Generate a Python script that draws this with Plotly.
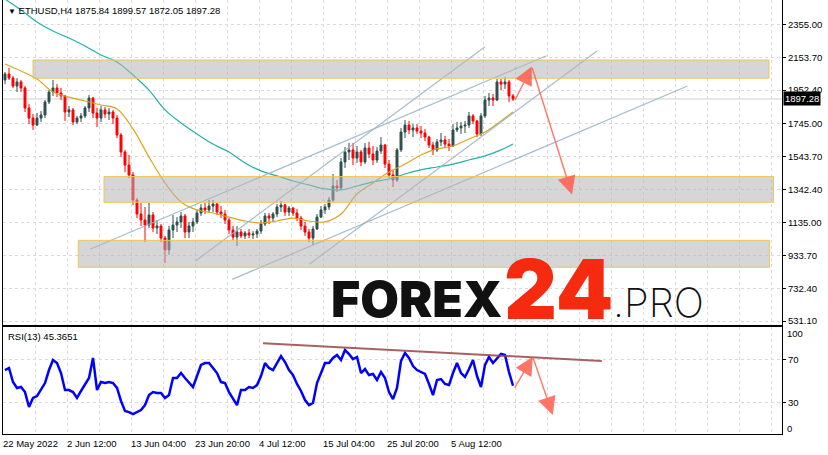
import pandas as pd
import plotly.graph_objects as go

# ---------------- data ----------------
t0 = pd.Timestamp("2022-05-22 20:00")
bar_hours = 16

opens = [2014,2051,2026,1977,2002,1965,1842,1780,1737,1780,
         1799,1879,1940,1965,1934,1916,1817,1830,1756,1780,
         1793,1842,1903,1811,1780,1830,1805,1817,1780,1676,
         1571,1491,1430,1276,1190,1153,1122,1184,1104,1116,
         1042,969,1092,1122,1141,1178,1079,1116,1141,1196,
         1227,1215,1239,1251,1202,1190,1153,1092,1048,1079,
         1055,1073,1061,1067,1085,1128,1178,1165,1190,1233,
         1245,1202,1227,1196,1165,1116,1079,1042,1098,1171,
         1215,1233,1276,1362,1350,1510,1571,1584,1534,1571,
         1510,1596,1559,1522,1577,1614,1497,1430,1399,1584,
         1694,1737,1707,1719,1700,1688,1663,1614,1584,1633,
         1645,1620,1608,1707,1719,1731,1737,1793,1762,1682,
         1793,1891,1903,1891,2002,1989,2002,1916]
highs = [2063,2088,2039,2026,2014,1977,1866,1805,1811,1823,
         1891,1952,2014,1989,1965,1922,1854,1842,1793,1811,
         1854,1922,1909,1842,1854,1848,1842,1830,1799,1688,
         1584,1553,1448,1288,1258,1233,1258,1202,1153,1128,
         1055,1116,1184,1171,1202,1190,1141,1165,1215,1251,
         1258,1276,1276,1258,1239,1215,1165,1116,1116,1098,
         1085,1098,1085,1098,1153,1196,1196,1202,1251,1270,
         1251,1239,1233,1221,1178,1141,1098,1116,1190,1239,
         1251,1294,1436,1399,1534,1602,1627,1627,1608,1584,
         1627,1633,1608,1602,1663,1620,1522,1461,1596,1719,
         1768,1762,1743,1743,1731,1713,1670,1633,1651,1688,
         1670,1651,1743,1756,1756,1762,1817,1805,1768,1811,
         1916,1934,1928,2020,2020,2032,2014,1928]
lows = [1989,2014,1965,1940,1940,1817,1743,1707,1731,1756,
        1780,1866,1916,1909,1891,1762,1786,1737,1743,1756,
        1780,1817,1780,1725,1756,1780,1768,1743,1657,1540,
        1448,1411,1245,1165,1116,1018,1104,1079,1067,1018,
        889,938,1042,1079,1104,1042,1042,1079,1128,1178,
        1190,1196,1202,1184,1165,1128,1067,1030,993,1042,
        1036,1042,1036,1042,1067,1116,1128,1141,1171,1202,
        1178,1178,1178,1147,1092,1055,1018,999,1092,1165,
        1190,1215,1264,1325,1338,1473,1522,1491,1504,1485,
        1497,1534,1491,1504,1559,1473,1411,1356,1387,1571,
        1657,1682,1663,1682,1657,1639,1596,1553,1571,1608,
        1596,1577,1602,1694,1682,1688,1719,1743,1663,1670,
        1780,1854,1854,1885,1952,1959,1879,1885]
closes = [2051,2026,1977,2002,1965,1842,1780,1737,1780,1799,
          1879,1940,1965,1934,1916,1817,1830,1756,1780,1793,
          1842,1903,1811,1780,1830,1805,1817,1780,1676,1571,
          1491,1430,1276,1190,1153,1122,1184,1104,1116,1042,
          969,1092,1122,1141,1178,1079,1116,1141,1196,1227,
          1215,1239,1251,1202,1190,1153,1092,1048,1079,1055,
          1073,1061,1067,1085,1128,1178,1165,1190,1233,1245,
          1202,1227,1196,1165,1116,1079,1042,1098,1171,1215,
          1233,1276,1362,1350,1510,1571,1584,1534,1571,1510,
          1596,1559,1522,1577,1614,1497,1430,1399,1584,1694,
          1737,1707,1719,1700,1688,1663,1614,1584,1633,1645,
          1620,1608,1707,1719,1731,1737,1793,1762,1682,1793,
          1891,1903,1891,2002,1989,2002,1916,1897.28]

ma_idx = list(range(0, 125, 4)) + [127]
ma_fast = [2112,2069,2020,1940,1909,1885,1860,1836,1713,1540,1381,1264,1215,1196,1171,1147,
           1135,1147,1165,1147,1141,1190,1313,1381,1448,1497,1553,1590,1608,1651,1694,1762,1817]
ma_slow = [2512,2444,2371,2315,2272,2223,2168,2125,2045,1952,1830,1750,1682,1620,1571,1504,
           1455,1424,1393,1368,1344,1338,1362,1387,1405,1436,1461,1479,1497,1522,1547,1584,1620]

rsi = [60.0,61.9,48.8,43.3,44.2,39.5,25.6,34.0,35.8,41.4,
       47.9,60.0,69.3,66.5,57.2,41.4,41.4,39.5,34.0,40.5,
       46.0,52.6,71.2,41.4,48.8,47.9,48.8,47.9,43.3,31.2,
       21.9,20.9,19.1,20.9,22.8,27.4,36.7,39.5,38.6,38.6,
       34.0,36.7,52.6,52.6,57.2,52.6,47.9,44.2,54.4,64.7,
       66.5,66.5,61.9,57.2,48.8,47.9,39.5,34.0,27.4,41.4,
       41.4,44.2,43.3,46.0,54.4,66.5,61.9,60.0,66.5,73.0,
       67.4,60.0,55.3,47.0,40.5,32.1,27.4,29.3,47.9,58.1,
       66.5,66.5,71.2,74.0,69.3,78.6,74.9,70.2,72.1,57.2,
       60.9,55.3,56.3,50.7,58.1,52.6,39.5,33.0,43.3,68.4,
       75.8,71.2,63.7,60.0,58.1,56.3,47.0,36.7,50.7,51.6,
       47.0,46.0,57.2,66.5,57.2,53.5,60.9,69.3,54.4,44.2,
       64.7,72.1,66.5,71.2,74.9,74.0,58.1,45.37]

price_ticks = [2355.00, 2153.70, 1952.40, 1745.00, 1543.70, 1342.40, 1135.00, 933.70, 732.40, 531.10]
date_labels = ["22 May 2022", "2 Jun 12:00", "13 Jun 04:00", "23 Jun 20:00",
               "4 Jul 12:00", "15 Jul 04:00", "25 Jul 20:00", "5 Aug 12:00"]
label_step_hours = 256
grid_step_hours = 128

zone_t0 = ["2022-05-27 20:00", "2022-06-08 16:00", "2022-06-04 09:00"]
zone_t1 = ["2022-09-27 12:00", "2022-09-28 06:00", "2022-09-27 14:00"]
zone_lo = [2025, 1262, 862]
zone_hi = [2137, 1420, 1028]

trend_t0 = ["2022-06-06 08:00", "2022-06-23 21:36", "2022-06-30 00:48", "2022-07-12 20:48"]
trend_p0 = [973, 901, 788, 881]
trend_t1 = ["2022-08-21 09:36", "2022-08-11 04:00", "2022-09-13 22:00", "2022-08-29 20:00"]
trend_p1 = [2163, 2219, 1977, 2192]

arrow_t = ["2022-08-16 01:00", "2022-08-18 23:00", "2022-08-25 16:00"]
arrow_p = [1880, 2097, 1310]
rsi_arrow_t = ["2022-08-16 00:00", "2022-08-19 03:00", "2022-08-22 11:00"]
rsi_arrow_v = [42.3, 72.4, 18.1]
rsi_trend_t = ["2022-07-05 04:00", "2022-08-30 15:00"]
rsi_trend_v = [84.8, 68.4]

title_text = "ETHUSD,H4 1875.84 1899.57 1872.05 1897.28"
rsi_text = "RSI(13) 45.3651"

# ---------------- helpers (layout positions) ----------------
W, H = 828, 455
L, R, T, B = 3, 46, 0, 21
def px(x):
    return (x - L) / (W - L - R)
def py(y):
    return (H - B - y) / (H - T - B)

n = len(closes)
bar_times = [t0 + pd.Timedelta(hours=8 + bar_hours * i) for i in range(n)]
ma_times = [bar_times[i] for i in ma_idx]
x_end = t0 + pd.Timedelta(hours=4 * (W - L - R))

GRID = "#dadada"
FONT = "Liberation Sans"
FS = 9.5

fig = go.Figure()

fig.add_trace(go.Candlestick(
    x=bar_times, open=opens, high=highs, low=lows, close=closes,
    increasing=dict(line=dict(color="#2f4f4f", width=1), fillcolor="#2f4f4f"),
    decreasing=dict(line=dict(color="#ff0000", width=1), fillcolor="#ff0000"),
    whiskerwidth=0, xaxis="x", yaxis="y", hoverinfo="skip"))

fig.add_trace(go.Scatter(x=ma_times, y=ma_slow, mode="lines",
                         line=dict(color="#20b2aa", width=1.2, shape="spline"),
                         xaxis="x", yaxis="y", hoverinfo="skip"))
fig.add_trace(go.Scatter(x=ma_times, y=ma_fast, mode="lines",
                         line=dict(color="#daa520", width=1.2, shape="spline"),
                         xaxis="x", yaxis="y", hoverinfo="skip"))

tx, ty = [], []
for a, b, c, d in zip(trend_t0, trend_p0, trend_t1, trend_p1):
    tx += [a, c, None]
    ty += [b, d, None]
fig.add_trace(go.Scatter(x=tx, y=ty, mode="lines",
                         line=dict(color="rgba(150,178,195,0.85)", width=1.2),
                         xaxis="x", yaxis="y", hoverinfo="skip"))

fig.add_trace(go.Scatter(x=bar_times, y=rsi, mode="lines",
                         line=dict(color="#0000ff", width=2.5),
                         xaxis="x2", yaxis="y2", hoverinfo="skip"))
fig.add_trace(go.Scatter(x=rsi_trend_t, y=rsi_trend_v, mode="lines",
                         line=dict(color="rgba(150,70,70,0.85)", width=2),
                         xaxis="x2", yaxis="y2", hoverinfo="skip"))

shapes = []
shapes.append(dict(type="line", xref="paper", x0=0, x1=1, yref="y",
                   y0=closes[-1], y1=closes[-1], line=dict(color="#d0d0d0", width=1),
                   layer="below"))
for a, b, lo, hi in zip(zone_t0, zone_t1, zone_lo, zone_hi):
    shapes.append(dict(type="rect", xref="x", yref="y", x0=a, x1=b, y0=lo, y1=hi,
                       fillcolor="rgba(180,180,180,0.55)",
                       line=dict(color="rgba(240,195,80,0.95)", width=1), layer="above"))

ann = []
ann.append(dict(xref="paper", yref="paper", x=px(6), y=py(10), xanchor="left", yanchor="middle",
                text="<span style='font-size:8px'>▼</span> " + title_text, showarrow=False,
                font=dict(family=FONT, size=FS, color="black")))
ann.append(dict(xref="paper", yref="paper", x=px(6), y=py(336), xanchor="left", yanchor="middle",
                text=rsi_text, showarrow=False, font=dict(family=FONT, size=FS, color="black")))
ann.append(dict(xref="paper", yref="paper", x=px(785), y=py(333), xanchor="left", yanchor="middle",
                text="100", showarrow=False, font=dict(family=FONT, size=FS, color="black")))
ann.append(dict(xref="paper", yref="paper", x=px(785), y=py(428), xanchor="left", yanchor="middle",
                text="0", showarrow=False, font=dict(family=FONT, size=FS, color="black")))
for k, lab in enumerate(date_labels):
    ann.append(dict(xref="x2", yref="paper", x=t0 + pd.Timedelta(hours=label_step_hours * k),
                    y=py(443), xanchor="left", yanchor="middle", text=lab, showarrow=False,
                    xshift=-2, font=dict(family=FONT, size=FS, color="black")))
ann.append(dict(xref="paper", yref="y", x=px(783), y=closes[-1], xanchor="left", yanchor="middle",
                text="%.2f" % closes[-1], showarrow=False, bgcolor="black", borderpad=1,
                font=dict(family=FONT, size=FS, color="white")))

acol = "rgba(255,95,80,0.85)"
for i in range(2):
    ann.append(dict(xref="x", yref="y", axref="x", ayref="y",
                    x=arrow_t[i + 1], y=arrow_p[i + 1], ax=arrow_t[i], ay=arrow_p[i],
                    showarrow=True, arrowhead=2, arrowsize=2.6, arrowwidth=1.4,
                    arrowcolor=acol, text=""))
    ann.append(dict(xref="x2", yref="y2", axref="x2", ayref="y2",
                    x=rsi_arrow_t[i + 1], y=rsi_arrow_v[i + 1], ax=rsi_arrow_t[i], ay=rsi_arrow_v[i],
                    showarrow=True, arrowhead=2, arrowsize=2.6, arrowwidth=1.4,
                    arrowcolor=acol, text=""))

# watermark
ann.append(dict(xref="paper", yref="paper", x=px(329), y=py(299), xanchor="left", yanchor="middle",
                text="FOREX", showarrow=False,
                font=dict(family="Inter", size=50, color="#111111", weight=900)))
ann.append(dict(xref="paper", yref="paper", x=px(502), y=py(289), xanchor="left", yanchor="middle",
                text="24", showarrow=False,
                font=dict(family="Inter", size=82, color="#f52a0f", weight=900)))
ann.append(dict(xref="paper", yref="paper", x=px(611), y=py(303), xanchor="left", yanchor="middle",
                text=".PRO", showarrow=False,
                font=dict(family="Inter", size=40, color="#111111", weight=200)))

axis_common = dict(showgrid=True, gridcolor=GRID, griddash="3px,3px", gridwidth=1, zeroline=False,
                   showline=True, linecolor="black", linewidth=1)

fig.update_layout(
    width=W, height=H, margin=dict(l=L, r=R, t=T, b=B, autoexpand=False),
    paper_bgcolor="white", plot_bgcolor="white", showlegend=False,
    font=dict(family=FONT, size=FS, color="black"),
    xaxis=dict(domain=[0, 1], anchor="y", type="date", range=[t0, x_end],
               tick0=t0, dtick=grid_step_hours * 3600 * 1000, showticklabels=False, ticks="",
               rangeslider=dict(visible=False), **axis_common),
    xaxis2=dict(domain=[0, 1], anchor="y2", type="date", matches="x", range=[t0, x_end],
                tick0=t0, dtick=grid_step_hours * 3600 * 1000, showticklabels=False, ticks="",
                mirror=True, **axis_common),
    yaxis=dict(domain=[py(325), 1], anchor="x", side="right", range=[507.25, 2506],
               tickvals=price_ticks, ticktext=["%.2f" % v for v in price_ticks],
               ticks="outside", ticklen=3, tickcolor="black", mirror=True,
               tickfont=dict(family=FONT, size=FS, color="black"), **axis_common),
    yaxis2=dict(domain=[0, py(327)], anchor="x2", side="right", range=[0.5, 100],
                tickvals=[70, 30], ticktext=["70", "30"], ticks="outside", ticklen=3,
                tickcolor="black", mirror=True,
                tickfont=dict(family=FONT, size=FS, color="black"), **axis_common),
    shapes=shapes, annotations=ann,
)

fig.write_html("out.html", config={"displayModeBar": False},
               post_script="document.body.style.margin='0';document.body.style.overflow='hidden';")
